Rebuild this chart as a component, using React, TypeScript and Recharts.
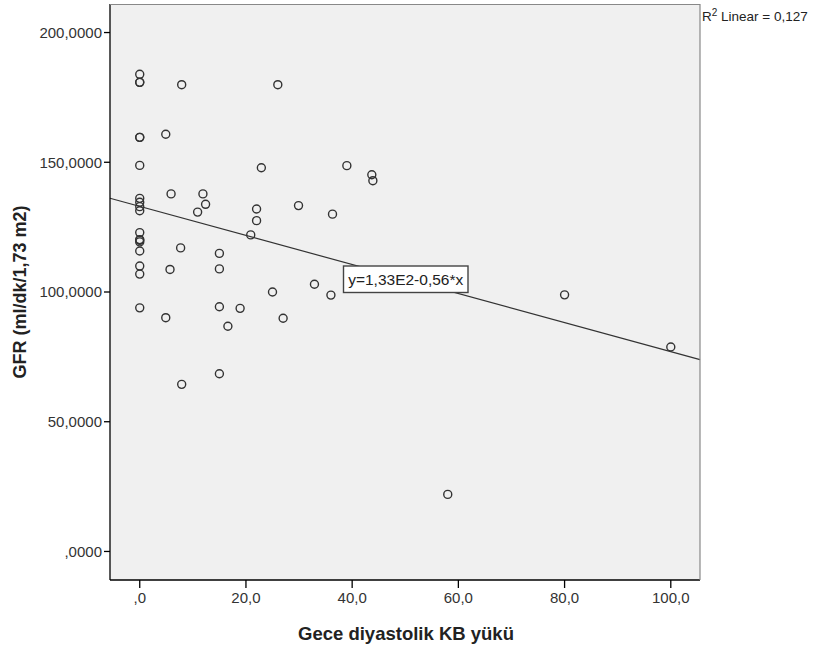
import React from 'react';
import { ScatterChart, Scatter, XAxis, YAxis, CartesianGrid, ReferenceLine } from 'recharts';

// Gece diyastolik KB yükü (x) vs GFR (y)
const loadValues = [
  0, 0, 0, 0, 0, 0, 0, 0, 0, 0, 0, 0, 0, 0, 0, 0, 0, 0,
  7.9, 26.0, 4.9, 22.9, 39.0, 43.7, 43.9, 5.9, 11.9, 12.4, 10.9, 22.0, 22.0, 29.9, 36.3,
  20.9, 7.7, 15.0, 15.0, 5.7, 25.0, 32.9, 36.0, 15.0, 18.9, 4.9, 27.0, 16.6, 15.0, 7.9,
  80, 100, 58,
];
const gfrValues = [
  183.9, 180.8, 180.8, 159.6, 159.6, 148.8, 136.1, 134.6, 132.9, 131.3, 122.9, 120.2, 119.9, 119.3,
  115.8, 110.0, 106.9, 93.9,
  179.9, 179.9, 160.8, 147.9, 148.7, 145.2, 142.9, 137.8, 137.8, 133.8, 130.8, 132.0, 127.5, 133.3, 130.0,
  122.0, 117.0, 114.9, 108.9, 108.7, 100.0, 103.0, 98.8, 94.3, 93.7, 90.1, 89.9, 86.8, 68.5, 64.4,
  98.9, 78.8, 22.0,
];
const xTicks = [0, 20, 40, 60, 80, 100];
const yTicks = [0, 50, 100, 150, 200];
const xDomain = [-5.6, 105.5];
const yDomain = [-11, 211];

// fit line y = 1,33E2 - 0,56*x
const intercept = 133;
const slope = -0.56;

const points = loadValues.map((x, i) => ({ x, y: gfrValues[i] }));

const fmtX = (v: number) => (v === 0 ? ',0' : v.toFixed(1).replace('.', ','));
const fmtY = (v: number) => (v === 0 ? ',0000' : v.toFixed(4).replace('.', ','));

const FONT = '"Liberation Sans", Arial, sans-serif';

const OpenCircle = (props: any) => (
  <circle cx={props.cx} cy={props.cy} r={4} fill="none" stroke="#333" strokeWidth={1.4} />
);

export default function App() {
  return (
    <div style={{ position: 'absolute', left: 0, top: 0, width: 814, height: 650, background: '#fff', fontFamily: FONT }}>
      <ScatterChart width={814} height={650} margin={{ top: 4, right: 114, bottom: 30, left: 10 }}>
        <CartesianGrid fill="#f0f0f0" horizontal={false} vertical={false} />
        <XAxis
          type="number"
          dataKey="x"
          domain={xDomain}
          ticks={xTicks}
          allowDataOverflow
          height={40}
          tickFormatter={fmtX}
          tickSize={8}
          tickMargin={4}
          axisLine={{ stroke: '#000', strokeWidth: 1.3 }}
          tickLine={{ stroke: '#000', strokeWidth: 1.3 }}
          tick={{ fill: '#333', fontSize: 15, fontFamily: FONT }}
        />
        <YAxis
          type="number"
          dataKey="y"
          domain={yDomain}
          ticks={yTicks}
          allowDataOverflow
          width={100}
          tickFormatter={fmtY}
          tickSize={6}
          tickMargin={2}
          axisLine={{ stroke: '#000', strokeWidth: 1.3 }}
          tickLine={{ stroke: '#000', strokeWidth: 1.3 }}
          tick={{ fill: '#333', fontSize: 15, fontFamily: FONT }}
        />
        <ReferenceLine
          segment={[
            { x: xDomain[0], y: intercept + slope * xDomain[0] },
            { x: xDomain[1], y: intercept + slope * xDomain[1] },
          ]}
          stroke="#333"
          strokeWidth={1.2}
        />
        <Scatter data={points} shape={OpenCircle} isAnimationActive={false} />
      </ScatterChart>
      <svg width={814} height={650} style={{ position: 'absolute', left: 0, top: 0, pointerEvents: 'none' }}>
        <line x1={110} y1={4.5} x2={700} y2={4.5} stroke="#888" strokeWidth={1.2} />
        <line x1={700} y1={4} x2={700} y2={580} stroke="#888" strokeWidth={1.2} />
        <rect x={343.5} y={266} width={124.5} height={26.5} fill="#fff" stroke="#444" strokeWidth={1.4} />
        <text x={405.7} y={284.8} textAnchor="middle" fontSize={15.5} fontFamily={FONT} fill="#222">
          y=1,33E2-0,56*x
        </text>
        <text x={702} y={21} fontSize={13.5} fontFamily={FONT} fill="#222">
          R<tspan fontSize={10} dy={-5}>2</tspan>
          <tspan dy={5}> Linear = 0,127</tspan>
        </text>
        <text x={406} y={640} textAnchor="middle" fontSize={18.5} fontWeight="bold" fontFamily={FONT} fill="#222">
          Gece diyastolik KB yükü
        </text>
        <text
          x={0}
          y={0}
          transform="translate(26,292) rotate(-90)"
          textAnchor="middle"
          fontSize={18}
          fontWeight="bold"
          fontFamily={FONT}
          fill="#222"
        >
          GFR (ml/dk/1,73 m2)
        </text>
      </svg>
    </div>
  );
}
